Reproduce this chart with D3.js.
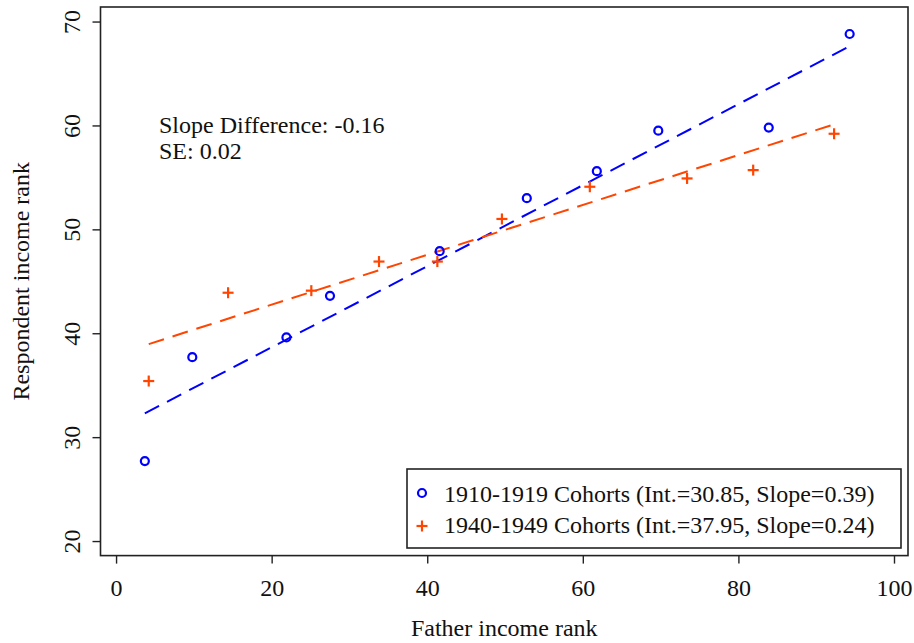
<!DOCTYPE html>
<html>
<head>
<meta charset="utf-8">
<script src="https://cdn.jsdelivr.net/npm/d3@7"></script>
<style>
  body { margin: 0; background: #fff; }
  svg { display: block; font-family: "Liberation Serif", "Times New Roman", serif; }
</style>
</head>
<body>
<div id="chart"></div>
<script>
// father income rank / respondent income rank
var oldX = [3.7, 9.8, 21.9, 27.5, 41.6, 52.8, 61.8, 69.7, 83.9, 94.3];
var oldY = [27.7, 37.7, 39.6, 43.6, 47.9, 53.0, 55.6, 59.5, 59.8, 68.8];
var newX = [4.2, 14.4, 25.1, 33.8, 41.3, 49.6, 60.9, 73.4, 81.9, 92.3];
var newY = [35.4, 43.9, 44.1, 46.9, 46.9, 51.0, 54.1, 54.9, 55.7, 59.2];
var fits = [
  {label: "1910-1919 Cohorts (Int.=30.85, Slope=0.39)", a: 30.85, b: 0.39},
  {label: "1940-1949 Cohorts (Int.=37.95, Slope=0.24)", a: 37.95, b: 0.24}
];
var xTicks = [0, 20, 40, 60, 80, 100];
var yTicks = [20, 30, 40, 50, 60, 70];
var noteLines = ["Slope Difference: -0.16", "SE: 0.02"];

var blue = "#0000ff", orange = "#ff4500";
var W = 914, H = 643;

var svg = d3.select("#chart").append("svg")
  .attr("width", W).attr("height", H);

var x = d3.scaleLinear().domain([-2.0, 101.8]).range([100.5, 908]);
var y = d3.scaleLinear().domain([18.6, 71.4]).range([555.6, 7]);

// frame
svg.append("rect")
  .attr("x", x.range()[0]).attr("y", y.range()[1])
  .attr("width", x.range()[1] - x.range()[0])
  .attr("height", y.range()[0] - y.range()[1])
  .attr("fill", "none").attr("stroke", "#222").attr("stroke-width", 1.6);

// axes
var gx = svg.append("g")
  .attr("transform", "translate(0," + y.range()[0] + ")")
  .call(d3.axisBottom(x).tickValues(xTicks).tickSize(8).tickSizeOuter(0));
gx.select(".domain").remove();
gx.selectAll("line").attr("stroke", "#222").attr("stroke-width", 1.4);
gx.selectAll("text").attr("dy", null).attr("y", 40)
  .attr("font-size", 24).attr("font-family", "Liberation Serif").attr("fill", "#111");

var gy = svg.append("g")
  .attr("transform", "translate(" + x.range()[0] + ",0)")
  .call(d3.axisLeft(y).tickValues(yTicks).tickSize(8).tickSizeOuter(0));
gy.select(".domain").remove();
gy.selectAll("line").attr("stroke", "#222").attr("stroke-width", 1.4);
gy.selectAll("text")
  .attr("transform", "rotate(-90)")
  .attr("x", 0).attr("y", -20.5).attr("dy", null)
  .attr("text-anchor", "middle")
  .attr("font-size", 24).attr("font-family", "Liberation Serif").attr("fill", "#111");

// axis titles
svg.append("text")
  .attr("x", (x.range()[0] + x.range()[1]) / 2).attr("y", 636)
  .attr("text-anchor", "middle").attr("font-size", 24).attr("fill", "#111")
  .text("Father income rank");
svg.append("text")
  .attr("transform", "translate(29," + (y.range()[0] + y.range()[1]) / 2 + ") rotate(-90)")
  .attr("text-anchor", "middle").attr("font-size", 24).attr("fill", "#111")
  .text("Respondent income rank");

// fitted lines
function fitLine(xs, f, color) {
  var x0 = d3.min(xs), x1 = d3.max(xs);
  svg.append("line")
    .attr("x1", x(x0)).attr("y1", y(f.a + f.b * x0))
    .attr("x2", x(x1)).attr("y2", y(f.a + f.b * x1))
    .attr("stroke", color).attr("stroke-width", 2)
    .attr("stroke-dasharray", "16,9");
}
fitLine(oldX, fits[0], blue);
fitLine(newX, fits[1], orange);

// points
var oldPts = oldX.map(function(d, i) { return [d, oldY[i]]; });
var newPts = newX.map(function(d, i) { return [d, newY[i]]; });

svg.selectAll(".old").data(oldPts).enter().append("circle")
  .attr("class", "old")
  .attr("cx", function(d) { return x(d[0]); })
  .attr("cy", function(d) { return y(d[1]); })
  .attr("r", 4).attr("fill", "none").attr("stroke", blue).attr("stroke-width", 2.2);

function cross(sel, s) {
  sel.append("line").attr("x1", -s).attr("x2", s).attr("y1", 0).attr("y2", 0);
  sel.append("line").attr("x1", 0).attr("x2", 0).attr("y1", -s).attr("y2", s);
}
svg.selectAll(".new").data(newPts).enter().append("g")
  .attr("class", "new")
  .attr("transform", function(d) { return "translate(" + x(d[0]) + "," + y(d[1]) + ")"; })
  .attr("stroke", orange).attr("stroke-width", 2.2)
  .call(cross, 5.5);

// annotation
svg.append("text")
  .attr("x", 159).attr("y", 133)
  .attr("font-size", 24).attr("fill", "#111")
  .selectAll("tspan").data(noteLines).enter().append("tspan")
  .attr("x", 159).attr("dy", function(d, i) { return i ? 26 : 0; })
  .text(function(d) { return d; });

// legend
var lg = svg.append("g");
lg.append("rect")
  .attr("x", 407).attr("y", 469).attr("width", 494).attr("height", 79)
  .attr("fill", "#fff").attr("stroke", "#222").attr("stroke-width", 1.6);
lg.append("circle")
  .attr("cx", 422).attr("cy", 493).attr("r", 4)
  .attr("fill", "none").attr("stroke", blue).attr("stroke-width", 2.2);
lg.append("g").attr("transform", "translate(422,526)")
  .attr("stroke", orange).attr("stroke-width", 2.2)
  .call(cross, 5.5);
lg.selectAll(".lt").data(fits).enter().append("text")
  .attr("class", "lt")
  .attr("x", 444).attr("y", function(d, i) { return 502 + i * 31; })
  .attr("font-size", 24).attr("fill", "#111")
  .text(function(d) { return d.label; });
</script>
</body>
</html>
